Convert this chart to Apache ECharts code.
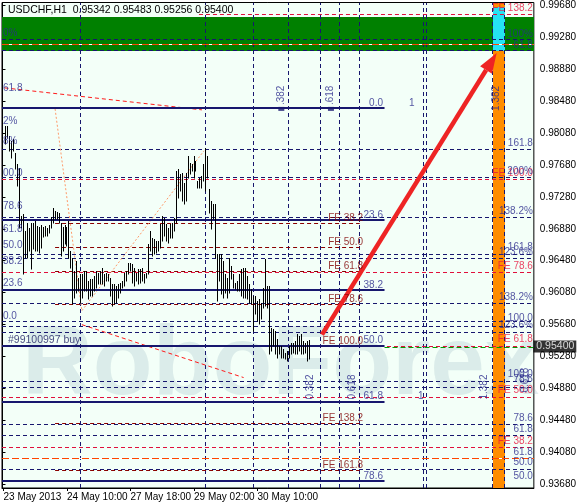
<!DOCTYPE html>
<html><head><meta charset="utf-8">
<script src="https://cdn.jsdelivr.net/npm/echarts@6/dist/echarts.min.js"></script>
<style>html,body{margin:0;padding:0;background:#fff;}#chart{width:579px;height:504px;}</style>
</head><body><div id="chart"></div>
<script>
// ---------- price bars (USDCHF H1), oldest first ----------
const highs = [0.98168,0.98168,0.98043,0.97980,0.98005,0.97830,0.97693,0.97643,0.97043,0.97068,
0.96855,0.96955,0.96893,0.96955,0.96955,0.96980,0.96918,0.96905,0.96930,0.96905,
0.96918,0.96893,0.96930,0.97030,0.97143,0.97105,0.97093,0.97080,0.96955,0.96905,
0.96930,0.96905,0.96980,0.96605,0.96518,0.96355,0.96480,0.96268,0.96318,0.96318,
0.96355,0.96355,0.96230,0.96255,0.96255,0.96293,0.96355,0.96330,0.96355,0.96393,
0.96318,0.96330,0.96318,0.96268,0.96193,0.96193,0.96168,0.96193,0.96205,0.96230,
0.96330,0.96355,0.96455,0.96455,0.96443,0.96393,0.96330,0.96380,0.96380,0.96393,
0.96318,0.96330,0.96693,0.96855,0.96768,0.96755,0.96730,0.96730,0.96943,0.97043,
0.97018,0.96943,0.96893,0.96943,0.96955,0.97018,0.97605,0.97630,0.97568,0.97580,
0.97455,0.97580,0.97793,0.97705,0.97693,0.97793,0.97730,0.97480,0.97518,0.97543,
0.97693,0.97893,0.97793,0.97380,0.97230,0.97193,0.97193,0.96568,0.96568,0.96568,
0.96480,0.96318,0.96268,0.96518,0.96418,0.96318,0.96205,0.96230,0.96318,0.96380,
0.96393,0.96393,0.96293,0.96193,0.96130,0.96043,0.96043,0.95980,0.96005,0.95955,
0.96143,0.96505,0.96168,0.96168,0.95643,0.95630,0.95605,0.95505,0.95418,0.95418,
0.95380,0.95330,0.95355,0.95418,0.95455,0.95455,0.95480,0.95568,0.95543,0.95568,
0.95480,0.95455,0.95480,0.95483];
const lows = [0.97943,0.98018,0.97855,0.97768,0.97855,0.97630,0.97418,0.96893,0.96893,0.96318,
0.96518,0.96518,0.96605,0.96380,0.96630,0.96605,0.96605,0.96580,0.96643,0.96780,
0.96793,0.96793,0.96830,0.96893,0.96955,0.97005,0.97005,0.96955,0.96543,0.96605,
0.96693,0.96668,0.96518,0.96393,0.95943,0.96018,0.96080,0.96105,0.95955,0.96018,
0.96105,0.96105,0.96005,0.96043,0.96043,0.96105,0.96143,0.96193,0.96193,0.96193,
0.96168,0.96230,0.96230,0.96043,0.95918,0.95943,0.95955,0.96018,0.96080,0.96143,
0.96168,0.96230,0.96318,0.96355,0.96205,0.96168,0.96230,0.96193,0.96205,0.96230,
0.96205,0.96268,0.96318,0.96605,0.96543,0.96568,0.96580,0.96605,0.96643,0.96730,
0.96793,0.96730,0.96705,0.96768,0.96768,0.96855,0.96955,0.97268,0.97355,0.97230,
0.97193,0.97230,0.97518,0.97568,0.97605,0.97518,0.97605,0.97393,0.97393,0.97393,
0.97480,0.97355,0.97518,0.97080,0.96880,0.97005,0.96518,0.95980,0.96230,0.96068,
0.96018,0.96080,0.96018,0.96080,0.96255,0.96143,0.96130,0.96105,0.96105,0.96043,
0.96018,0.96018,0.96005,0.95955,0.95943,0.95605,0.95818,0.95730,0.95693,0.95755,
0.95893,0.95918,0.95893,0.95318,0.95355,0.95418,0.95318,0.95268,0.95318,0.95268,
0.95268,0.95255,0.95230,0.95268,0.95318,0.95330,0.95318,0.95318,0.95355,0.95318,
0.95318,0.95330,0.95230,0.95256];
const lastOHLC = [0.95342, 0.95483, 0.95256, 0.95400];
const symbolName = 'USDCHF,H1';
const currentPrice = 0.95400;

// ---------- axis ticks ----------
const timeLabels = ['23 May 2013','24 May 10:00','27 May 18:00','29 May 02:00','30 May 10:00'];
const timeLabelAt = [0.5, 32.5, 64.5, 96.5, 128.5];
const priceTicks = [0.99680,0.99280,0.98880,0.98480,0.98080,0.97680,0.97280,0.96880,0.96480,0.96080,0.95680,0.95280,0.94880,0.94480,0.94080,0.93680];

// ---------- annotations ----------
const fibRetLevels = [0.98380,0.96980,0.96110,0.95410,0.94710,0.93715];
const fibRetTexts = ['0.0','23.6','38.2','50.0','61.8','78.6'];
const fibRetSpan = [-0.25, 192.5];
const feLevels = [0.96943,0.96643,0.96343,0.95930,0.95405,0.94443,0.93855];
const feTexts = ['FE 38.2','FE 50.0','FE 61.8','FE 78.6','FE 100.0','FE 138.2','FE 161.8'];
const feSpan = [26.5, 180];
const feRedLevels = [0.99555,0.97493,0.96330,0.95405,0.94768,0.94143];
const feRedFrom = [99,-0.25,-0.25,-0.25,-0.25,-0.25];
const feRedLabelLevels = [0.99630,0.97568,0.96405,0.95493,0.94855,0.94218];
const feRedTexts = ['FE 138.2','FE 100.0','FE 78.6','FE 61.8','FE 50.0','FE 38.2'];
const navyDashLevels = [0.99243,0.99105,0.97868,0.97518,0.97018,0.96555,0.96505,0.95943,0.95718,0.95655,0.95580,0.94968,0.94893,0.94430,0.94293,0.93868];
const orangeDashLevels = [0.99180,0.94005];
const timeZoneLines = [39.5,102.5,126.5,144,160,170,180,212,213.5,247,253];
const rightLabelLevels = [0.99305,0.99168,0.97943,0.97593,0.97093,0.96643,0.96580,0.96018,0.95755,0.95668,0.95055,0.94993,0.94505,0.94368,0.94080,0.93955,0.93780];
const rightLabelTexts = ['100%','61.8','161.8','200%','138.2%','161.8','123.6%','138.2%','100.0','123.6%','100.0','78.6','78.6','61.8','61.8','50.0','50.0'];
const leftLabelLevels = [0.99318,0.98630,0.98218,0.97968,0.97568,0.97155,0.96868,0.96668,0.96468,0.96193,0.95780];
const leftLabelTexts = ['0%','61.8','2%','8%','00.0','78.6','61.8','50.0','38.2','23.6','0.0'];
const rotatedLabels = [[140.5,0.98543,'.382'],[165.5,0.98543,'.618'],[249,0.98505,'1.382'],[155.5,0.94893,'0.382'],[176.5,0.94893,'0.618'],[243,0.94893,'1.382'],[263.5,0.94980,'0.618']];
const plainLabels = [[206.5,0.98443,'1'],[211,0.94780,'1']];
const fibMarkers = [[140.5,0.98380],[165.5,0.98380]];
const orderLabel = [3, 0.95480, '#99100997 buy'];
const greenZone = [0.99105, 0.99530];
const orangeZone = [247, 253];
const cyanZone = [0.99105, 0.99655];
const salmonPath = [[26.5,0.98380],[40,0.95855],[101.5,0.97855]];
const redDash1 = [[1,0.98643],[100.5,0.98368]];
const redDash2 = [[40,0.95680],[121.5,0.95018]];
const arrowFrom = [161, 0.95555], arrowTo = [249, 0.99080];
const currentLineSpan = [192.5, 267.75];

// ---------- chart ----------
const xMin = -0.25, xMax = 267.75, yMin = 0.9363625, yMax = 0.9971125;
const FONT = 'Liberation Sans';
const NAVY = '#17176e', NAVYTXT = '#2a2a8c';
const STYLES = {
  navyDash: {stroke:NAVY, lineWidth:1, lineDash:[4,3]},
  crimsonDash: {stroke:'#e0103c', lineWidth:1, lineDash:[4,3]},
  maroonDash: {stroke:'#8b0000', lineWidth:1, lineDash:[4,3]},
  white: {stroke:'#ffffff', lineWidth:1},
  orangeDash: {stroke:'#ff4500', lineWidth:1, lineDash:[7,3]},
  salmonDot: {stroke:'#ff9a6a', lineWidth:1, lineDash:[2,2]},
  redDash: {stroke:'#ff1a1a', lineWidth:1, lineDash:[4,3]},
  greenDash: {stroke:'#00a000', lineWidth:1, lineDash:[5,3]},
  thick: {stroke:NAVY, lineWidth:2}
};
const styleKeys = Object.keys(STYLES);
const segs = [];
function addSeg(a, b, key) { segs.push([a[0], a[1], b[0], b[1], styleKeys.indexOf(key)]); }
navyDashLevels.forEach(l => addSeg([xMin,l],[xMax,l],'navyDash'));
timeZoneLines.forEach(v => addSeg([v,yMin],[v,yMax],'navyDash'));
orangeDashLevels.forEach(l => { addSeg([xMin,l],[xMax,l],'white'); addSeg([xMin,l],[xMax,l],'orangeDash'); });
feRedLevels.forEach((l,i) => addSeg([feRedFrom[i],l],[xMax,l],'crimsonDash'));
feLevels.forEach(l => addSeg([feSpan[0],l],[feSpan[1],l],'maroonDash'));
for (let i = 0; i < salmonPath.length - 1; i++) addSeg(salmonPath[i], salmonPath[i+1], 'salmonDot');
addSeg(redDash1[0], redDash1[1], 'redDash');
addSeg(redDash2[0], redDash2[1], 'redDash');
addSeg([currentLineSpan[0],currentPrice],[currentLineSpan[1],currentPrice],'greenDash');
fibRetLevels.forEach(l => addSeg([fibRetSpan[0],l],[fibRetSpan[1],l],'thick'));

const series = [];
// bands
series.push({type:'custom', z:2, silent:true, animation:false,
  data:[[xMin, greenZone[0], xMax, greenZone[1], 0],[orangeZone[0], yMin, orangeZone[1], yMax, 1],[orangeZone[0], cyanZone[0], orangeZone[1], cyanZone[1], 2]],
  renderItem:(p, api) => {
    const a = api.coord([api.value(0), api.value(1)]), b = api.coord([api.value(2), api.value(3)]);
    const cols = ['#008000','#ff8c00','#25e3f2'];
    return {type:'rect', shape:{x:Math.round(a[0]), y:Math.round(b[1]), width:Math.round(b[0])-Math.round(a[0]), height:Math.round(a[1])-Math.round(b[1])}, style:{fill:cols[api.value(4)]}};
  }});
// lines (pixel-snapped)
series.push({type:'custom', z:3, silent:true, animation:false, data:segs, clip:true,
  renderItem:(p, api) => {
    const a = api.coord([api.value(0), api.value(1)]), b = api.coord([api.value(2), api.value(3)]);
    const st = STYLES[styleKeys[api.value(4)]];
    const off = st.lineWidth % 2 === 1 ? 0.5 : 0;
    let x1 = a[0], y1 = a[1], x2 = b[0], y2 = b[1];
    if (Math.abs(y1 - y2) < 0.01) { y1 = y2 = Math.round(y1 - 0.5) + off; }
    if (Math.abs(x1 - x2) < 0.01) { x1 = x2 = Math.round(x1 - 0.5) + off; }
    return {type:'line', shape:{x1:x1, y1:y1, x2:x2, y2:y2}, style:Object.assign({fill:null}, st)};
  }});
// bars
series.push({type:'custom', z:5, silent:true, animation:false,
  data: highs.map((h,i) => [i + 1.5, lows[i], h]),
  renderItem:(p, api) => {
    const lo = api.coord([api.value(0), api.value(1)]), hi = api.coord([api.value(0), api.value(2)]);
    const x = Math.floor(lo[0]) + 0.5;
    return {type:'line', shape:{x1:x, y1:Math.round(lo[1])+0.5, x2:x, y2:Math.round(hi[1])}, style:{stroke:'#000', lineWidth:1}};
  }});
// arrow
series.push({type:'custom', z:6, silent:true, animation:false, data:[[arrowFrom[0],arrowFrom[1],arrowTo[0],arrowTo[1]]],
  renderItem:(p, api) => {
    const a = api.coord([api.value(0), api.value(1)]), b = api.coord([api.value(2), api.value(3)]);
    const dx = b[0]-a[0], dy = b[1]-a[1], L = Math.hypot(dx,dy), ux = dx/L, uy = dy/L;
    const hl = 20, hw = 7;
    const bx = b[0]-ux*hl, by = b[1]-uy*hl;
    return {type:'group', children:[
      {type:'line', shape:{x1:a[0], y1:a[1], x2:bx, y2:by}, style:{stroke:'#ee2424', lineWidth:4.5}},
      {type:'polygon', shape:{points:[[b[0],b[1]],[bx - uy*hw, by + ux*hw],[bx + uy*hw, by - ux*hw]]}, style:{fill:'#ee2424'}}
    ]};
  }});
// markers
series.push({type:'scatter', z:6, silent:true, animation:false, data:fibMarkers, symbol:'rect', symbolSize:[6,4], itemStyle:{color:NAVY}});
// labels
function labelSeries(data, lab) {
  series.push({type:'scatter', z:7, silent:true, animation:false, clip:false, symbolSize:1, itemStyle:{color:'rgba(0,0,0,0)'},
    data: data.map(d => ({value:[d[0], d[1]], name:d[2]})),
    label:Object.assign({show:true, position:[0,0], fontFamily:FONT, fontSize:10, formatter:(q) => q.name}, lab),
    labelLayout:{hideOverlap:false}});
}
labelSeries(fibRetLevels.map((l,i) => [192, l, fibRetTexts[i]]), {color:NAVYTXT, align:'right', verticalAlign:'bottom'});
labelSeries(feLevels.map((l,i) => [182, l, feTexts[i]]), {color:'#800000', align:'right', verticalAlign:'bottom'});
labelSeries(feRedLabelLevels.map((l,i) => [267.5, l, feRedTexts[i]]), {color:'#e8143c', align:'right', verticalAlign:'middle'});
labelSeries(rightLabelLevels.map((l,i) => [267.5, l, rightLabelTexts[i]]), {color:NAVYTXT, align:'right', verticalAlign:'middle'});
labelSeries(leftLabelLevels.map((l,i) => [0.5, l, leftLabelTexts[i]]), {color:NAVYTXT, align:'left', verticalAlign:'middle'});
labelSeries(rotatedLabels, {color:NAVYTXT, align:'center', verticalAlign:'middle', rotate:90});
labelSeries(plainLabels, {color:NAVYTXT, align:'center', verticalAlign:'middle'});
labelSeries([orderLabel], {color:'#1a1a60', align:'left', verticalAlign:'middle', fontSize:10.5});
labelSeries([[xMax, currentPrice, currentPrice.toFixed(5)]], {color:'#fff', backgroundColor:'#000', align:'left', verticalAlign:'middle', padding:[1,2,0,3], offset:[3,0], fontSize:10.5});

const chart = echarts.init(document.getElementById('chart'), null, {renderer:'canvas'});
chart.setOption({
  animation:false,
  backgroundColor:'#ffffff',
  title:{text: symbolName + '  ' + lastOHLC.map(v => v.toFixed(5)).join(' '), left:8, top:5, padding:0,
    textStyle:{fontSize:10.5, fontWeight:'normal', color:'#000', fontFamily:FONT}},
  graphic:[{type:'text', left:22, top:318, z:1, silent:true,
    style:{text:'RoboForex', fontSize:98, fontWeight:'bold', fontFamily:FONT, fill:'rgba(150,180,195,0.26)'}}],
  grid:{left:2, right:41, top:2, bottom:16, show:true, backgroundColor:'#f3fff8', borderColor:'#000', borderWidth:1, z:0},
  xAxis:{type:'value', min:xMin, max:xMax, splitLine:{show:false},
    axisLine:{lineStyle:{color:'#000'}},
    axisTick:{show:true, length:3, customValues:timeLabelAt, lineStyle:{color:'#000'}},
    axisLabel:{customValues:timeLabelAt, align:'left', margin:4, color:'#000', fontSize:10, fontFamily:FONT,
      formatter:(v) => { const k = timeLabelAt.findIndex(t => Math.abs(t - v) < 0.01); return k >= 0 ? timeLabels[k] : ''; }}},
  yAxis:{type:'value', position:'right', min:yMin, max:yMax, scale:true, splitLine:{show:false},
    axisLine:{show:true, lineStyle:{color:'#000'}},
    axisTick:{show:true, length:3, customValues:priceTicks, lineStyle:{color:'#000'}},
    axisLabel:{customValues:priceTicks, margin:6, color:'#000', fontSize:10, fontFamily:FONT, formatter:(v) => v.toFixed(5)}},
  series: series
});
</script></body></html>
